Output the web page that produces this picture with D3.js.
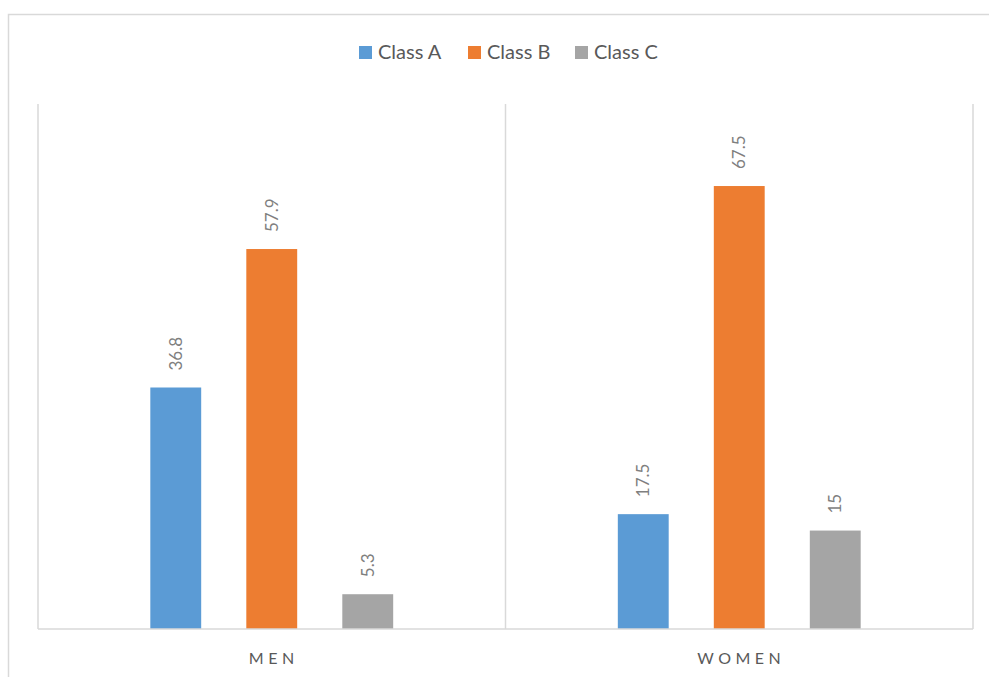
<!DOCTYPE html>
<html>
<head>
<meta charset="utf-8">
<script src="https://cdn.jsdelivr.net/npm/d3@7"></script>
<style>
  body { margin: 0; background: #fff; }
  svg { display: block; font-family: Lato, "Open Sans", sans-serif; }
</style>
</head>
<body>
<div id="chart"></div>
<script>
const groups = ['MEN', 'WOMEN'];
const series = ['Class A', 'Class B', 'Class C'];
const classA = [36.8, 17.5];
const classB = [57.9, 67.5];
const classC = [5.3, 15];
const colors = ['#5b9bd5', '#ed7d31', '#a5a5a5'];

const width = 989, height = 677;
const margin = {top: 104, right: 16, bottom: 48, left: 38};

const svg = d3.select('#chart').append('svg')
  .attr('width', width)
  .attr('height', height);

// outer chart frame (runs off the right and bottom)
svg.append('rect')
  .attr('x', 8.5).attr('y', 14.5)
  .attr('width', 1100).attr('height', 800)
  .attr('fill', 'none').attr('stroke', '#d9d9d9').attr('stroke-width', 1.5);

const x0 = d3.scaleBand().domain(groups)
  .range([margin.left, width - margin.right]);
const x1 = d3.scaleBand().domain(series)
  .range([0, x0.bandwidth()]).paddingInner(0.47).paddingOuter(1.17);
const y = d3.scaleLinear().domain([0, 80])
  .range([height - margin.bottom, margin.top]);

const values = [classA, classB, classC];
const rows = [];
groups.forEach((g, gi) => series.forEach((s, si) => rows.push({g, s, si, v: values[si][gi]})));

// category separators
const seps = [x0.range()[0], ...groups.map(g => x0(g) + x0.bandwidth())];
svg.append('g').selectAll('line').data(seps).enter().append('line')
  .attr('x1', d => d).attr('x2', d => d)
  .attr('y1', y(80)).attr('y2', y(0))
  .attr('stroke', '#d9d9d9').attr('stroke-width', 1.5);

svg.append('g').selectAll('rect').data(rows).enter().append('rect')
  .attr('x', d => x0(d.g) + x1(d.s))
  .attr('y', d => y(d.v))
  .attr('width', x1.bandwidth())
  .attr('height', d => y(0) - y(d.v))
  .attr('fill', d => colors[d.si]);

// baseline
svg.append('line')
  .attr('x1', x0.range()[0]).attr('x2', x0.range()[1])
  .attr('y1', y(0)).attr('y2', y(0))
  .attr('stroke', '#d9d9d9').attr('stroke-width', 1.5);

// value labels
svg.append('g').selectAll('text').data(rows).enter().append('text')
  .attr('transform', d => `translate(${x0(d.g) + x1(d.s) + x1.bandwidth() / 2 + 6},${y(d.v) - 17}) rotate(-90)`)
  .attr('font-size', 17).attr('fill', '#7f7f7f')
  .text(d => d.v);

// category labels
svg.append('g').selectAll('text').data(groups).enter().append('text')
  .attr('x', d => x0(d) + x0.bandwidth() / 2 + 2)
  .attr('y', 664)
  .attr('text-anchor', 'middle')
  .attr('font-size', 16).attr('letter-spacing', 4.5).attr('fill', '#595959')
  .text(d => d);

// legend
const legX = [359, 468, 575];
const leg = svg.append('g').selectAll('g').data(series).enter().append('g')
  .attr('transform', (d, i) => `translate(${legX[i]},46)`);
leg.append('rect').attr('width', 13).attr('height', 13).attr('fill', (d, i) => colors[i]);
leg.append('text').attr('x', 19).attr('y', 13)
  .attr('font-size', 20).attr('fill', '#595959')
  .text(d => d);
</script>
</body>
</html>
